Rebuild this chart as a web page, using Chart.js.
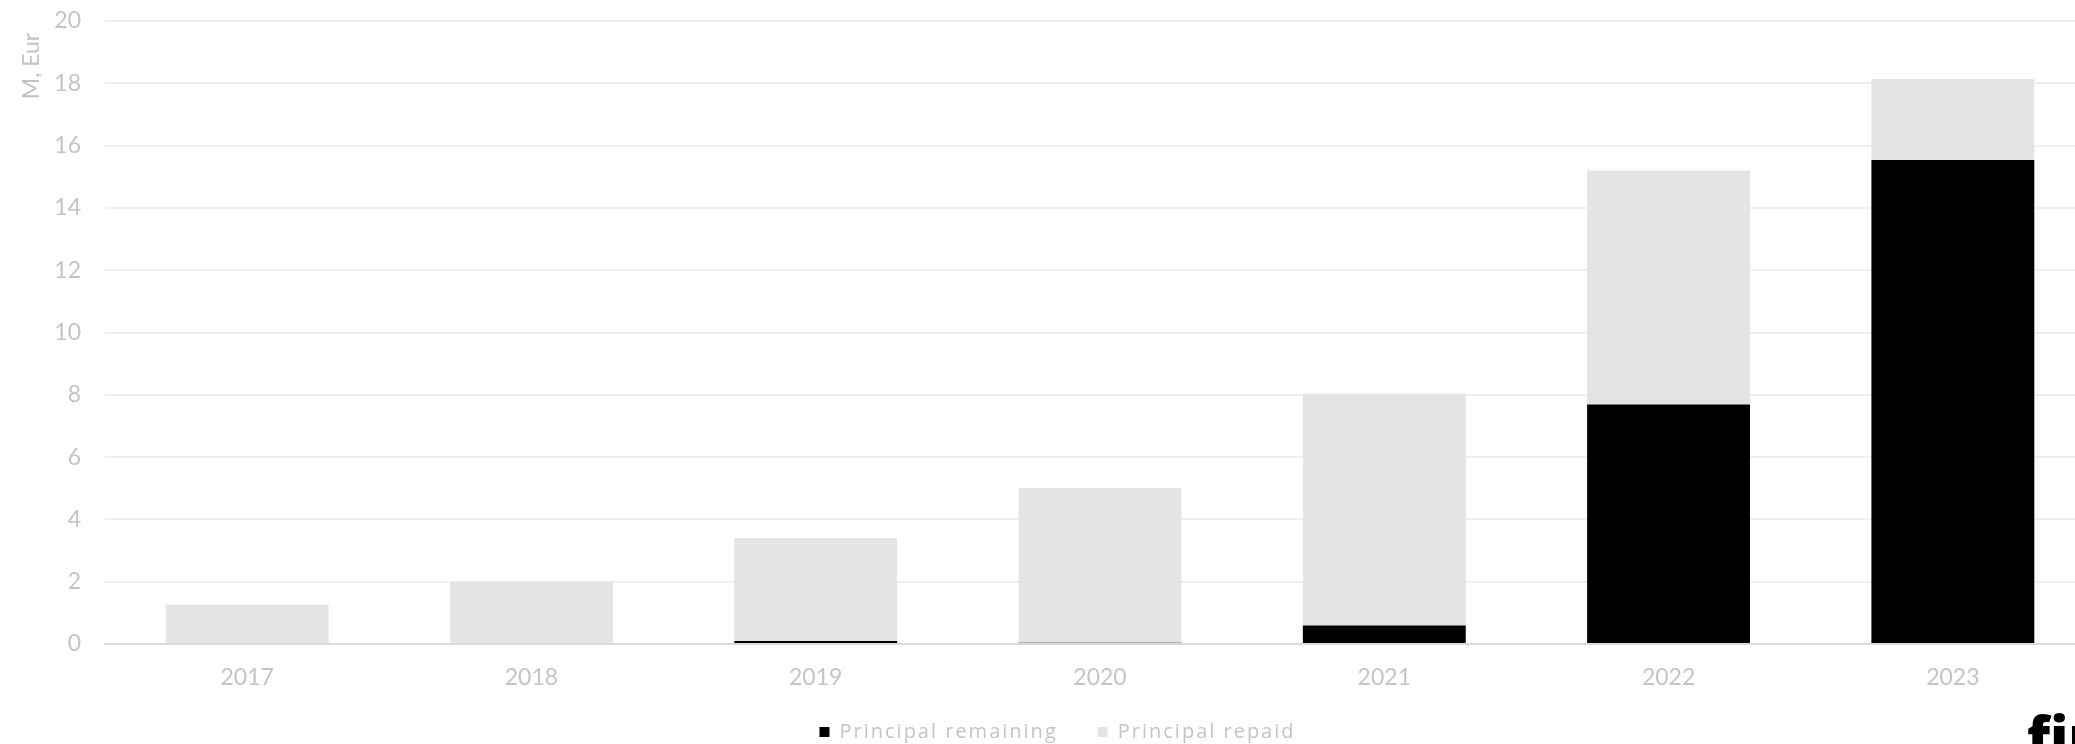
<!DOCTYPE html>
<html>
<head>
<meta charset="utf-8">
<script src="https://cdn.jsdelivr.net/npm/chart.js@4.4.0/dist/chart.umd.min.js"></script>
<style>
  html, body { margin: 0; padding: 0; background: #fff; overflow: hidden; }
  #wrap { position: relative; width: 2095px; height: 744px; }
  #logo {
    position: absolute; left: 2027px; top: 707px;
    font-family: "Open Sans", sans-serif; font-weight: 800; font-size: 56px;
    color: #000; line-height: 1;
  }
</style>
</head>
<body>
<div id="wrap">
  <canvas id="loanChart" width="2095" height="744"></canvas>
  <div id="logo">fin</div>
</div>
<script>
const years = ["2017", "2018", "2019", "2020", "2021", "2022", "2023"];
const principalRemaining = [0, 0, 0.1, 0.04, 0.59, 7.69, 15.54];
const principalRepaid = [1.27, 2.0, 3.3, 4.97, 7.44, 7.51, 2.6];
const yTicks = [0, 2, 4, 6, 8, 10, 12, 14, 16, 18, 20];

const textGrey = "#c4c4c4";
const fontFamily = "Lato, sans-serif";

// legend text is tracked out; the block sits a bit right of centre and
// closer to the axis labels than the default layout puts it
const legendTweaks = {
    id: "legendTweaks",
    afterInit(chart) {
        const legend = chart.legend;
        ["fit", "draw"].forEach(name => {
            const orig = legend[name].bind(legend);
            legend[name] = function (...args) {
                const ctx = chart.ctx;
                const prev = ctx.letterSpacing;
                ctx.letterSpacing = "2px";
                const res = orig(...args);
                ctx.letterSpacing = prev;
                return res;
            };
        });
    },
    afterLayout(chart) {
        chart.legend.left += 20;
        chart.legend.top -= 10;
        chart.legend.bottom -= 10;
    }
};

const chartElement = document.getElementById("loanChart");

new Chart(chartElement, {
    type: "bar",
    data: {
        labels: years,
        datasets: [
            {
                label: "Principal remaining",
                data: principalRemaining,
                backgroundColor: "#000000",
                barPercentage: 0.573,
                categoryPercentage: 1
            },
            {
                label: "Principal repaid",
                data: principalRepaid,
                backgroundColor: "#e4e4e4",
                barPercentage: 0.573,
                categoryPercentage: 1
            }
        ]
    },
    options: {
        responsive: false,
        animation: false,
        layout: {padding: {top: 0, left: 0, right: 0, bottom: -18}},
        plugins: {
            tooltip: {enabled: false},
            legend: {
                position: "bottom",
                labels: {
                    boxWidth: 10,
                    boxHeight: 10,
                    padding: 40,
                    color: textGrey,
                    font: {family: "'Open Sans', sans-serif", size: 20, weight: 400}
                }
            }
        },
        scales: {
            x: {
                stacked: true,
                afterFit(scale) { scale.height = 48; },
                grid: {display: false, drawTicks: false},
                border: {display: true, color: "#dadada", width: 2},
                ticks: {
                    color: textGrey,
                    padding: 20,
                    font: {family: fontFamily, size: 23, weight: 400}
                }
            },
            y: {
                stacked: true,
                min: 0,
                max: 20,
                afterFit(scale) {
                    scale.width = 105;
                    scale.paddingTop = 21;
                    scale.paddingBottom = 0;
                },
                afterBuildTicks(scale) { scale.ticks = yTicks.map(v => ({value: v})); },
                grid: {color: "#f0f0f0", lineWidth: 2, drawTicks: false},
                border: {display: false},
                ticks: {
                    color: textGrey,
                    padding: 24,
                    font: {family: fontFamily, size: 23, weight: 400}
                },
                title: {
                    display: true,
                    text: "M, Eur  ",
                    align: "end",
                    color: textGrey,
                    padding: {top: 18, bottom: 0},
                    font: {family: fontFamily, size: 23, weight: 400}
                }
            }
        }
    },
    plugins: [legendTweaks]
});
</script>
</body>
</html>
